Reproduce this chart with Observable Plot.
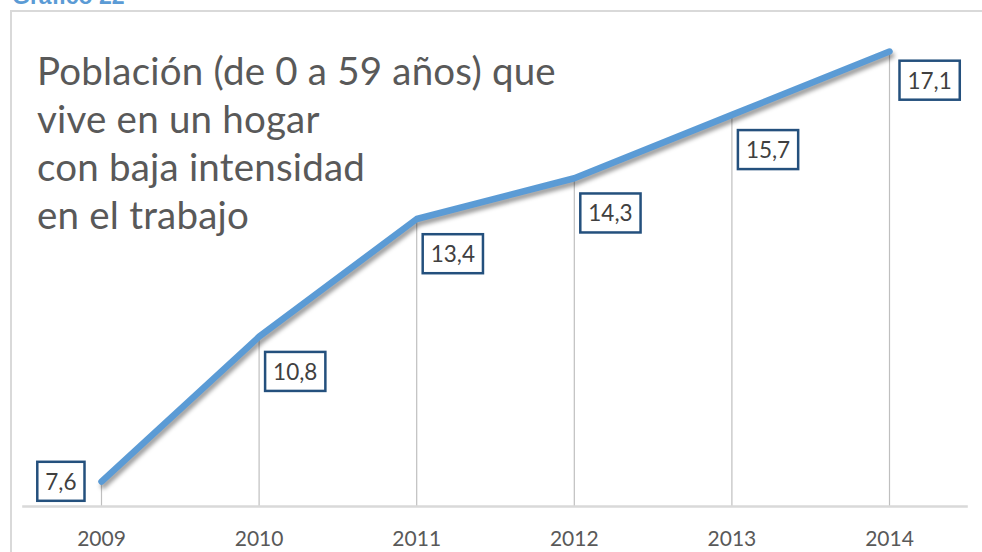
<!DOCTYPE html>
<html>
<head>
<meta charset="utf-8">
<script src="https://cdn.jsdelivr.net/npm/d3@7"></script>
<script src="https://cdn.jsdelivr.net/npm/@observablehq/plot@0.6"></script>
<style>
  html, body { margin: 0; padding: 0; background: #fff; }
  #wrap { position: relative; width: 982px; height: 552px; overflow: hidden; background: #fff; }
  #frame { position: absolute; left: 10px; top: 10px; width: 1200px; height: 800px;
           border-left: 2.5px solid #d9d9d9; border-top: 2.5px solid #d9d9d9; }
  #grafico { position: absolute; left: 12px; top: -18px; font-family: "Liberation Sans", Arial, sans-serif;
             font-weight: bold; font-size: 23px; line-height: 28px; color: #5b9bd5; }
  #title { position: absolute; left: 37px; top: 46px; font-family: Lato, sans-serif; font-size: 38.5px;
           letter-spacing: 0.2px; line-height: 48px; color: #595959; white-space: nowrap; }
  #chart { position: absolute; left: 0; top: 0; }
</style>
</head>
<body>
<div id="wrap">
  <div id="frame"></div>
  <div id="chart"></div>
  <div id="grafico">Gráfico 22</div>
  <div id="title"></div>
</div>
<script>
const years = [2009, 2010, 2011, 2012, 2013, 2014];
const values = [7.6, 10.8, 13.4, 14.3, 15.7, 17.1];
const titleLines = ["Población (de 0 a 59 años) que", "vive en un hogar", "con baja intensidad", "en el trabajo"];

const data = years.map((year, i) => ({ year, value: values[i], label: String(values[i]).replace(".", ",") }));
const yBase = 7.05;

document.getElementById("title").innerHTML = titleLines.join("<br>");

const chart = Plot.plot({
  width: 982,
  height: 552,
  marginLeft: 101,
  marginRight: 93,
  marginTop: 51,
  marginBottom: 46,
  style: { fontFamily: "Lato, sans-serif", fontSize: "21px", background: "transparent", overflow: "visible" },
  x: { domain: [2009, 2014], ticks: years, tickFormat: d => String(d), label: null },
  y: { domain: [yBase, 17.1], axis: null },
  marks: [
    Plot.ruleX(data, { x: "year", y1: yBase, y2: "value", stroke: "#bfbfbf", strokeWidth: 1.2 }),
    Plot.ruleY([yBase], { x1: 2008.5, x2: 2014.5, stroke: "#d9d9d9", strokeWidth: 2.5 }),
    Plot.axisX({ ticks: years, tickSize: 0, tickPadding: 25, tickFormat: d => String(d), label: null,
                 fill: "#595959", fontSize: 21 }),
    Plot.line(data, { x: "year", y: "value", stroke: "#000", strokeOpacity: 0.4, strokeWidth: 6, dx: 2, dy: 4,
                      strokeLinecap: "round", strokeLinejoin: "round" }),
    Plot.line(data, { x: "year", y: "value", stroke: "#5b9bd5", strokeWidth: 6.5,
                      strokeLinecap: "round", strokeLinejoin: "round" }),
    Plot.text(data.filter(d => d.year === 2009), { x: "year", y: "value", text: "label", textAnchor: "end",
                      dx: -25, dy: 1, fill: "#404040", fontSize: 22.5 }),
    Plot.text(data.filter(d => d.year > 2009 && d.year < 2014), { x: "year", y: "value", text: "label", textAnchor: "start",
                      dx: 14, dy: 36, fill: "#404040", fontSize: 22.5 }),
    Plot.text(data.filter(d => d.year === 2014), { x: "year", y: "value", text: "label", textAnchor: "start",
                      dx: 18, dy: 30, fill: "#404040", fontSize: 22.5 })
  ]
});
document.getElementById("chart").appendChild(chart);

// shadow blur on the first line
const ns = "http://www.w3.org/2000/svg";
const defs = document.createElementNS(ns, "defs");
defs.innerHTML = '<filter id="blurShadow" x="-10%" y="-10%" width="120%" height="120%"><feGaussianBlur stdDeviation="2.2"/></filter>';
chart.insertBefore(defs, chart.firstChild);
const lines = chart.querySelectorAll('g[aria-label="line"]');
if (lines.length) lines[0].setAttribute("filter", "url(#blurShadow)");

// boxes around data labels
chart.querySelectorAll('g[aria-label="text"] text').forEach(t => {
  const b = t.getBBox();
  const r = document.createElementNS(ns, "rect");
  const w = b.width + 16, h = 39;
  r.setAttribute("x", b.x - 8);
  r.setAttribute("y", b.y + b.height / 2 - h / 2);
  r.setAttribute("width", w);
  r.setAttribute("height", h);
  r.setAttribute("fill", "#fff");
  r.setAttribute("stroke", "#24507d");
  r.setAttribute("stroke-width", 2.5);
  const tr = t.getAttribute("transform");
  if (tr) r.setAttribute("transform", tr);
  t.parentNode.insertBefore(r, t);
});
</script>
</body>
</html>
